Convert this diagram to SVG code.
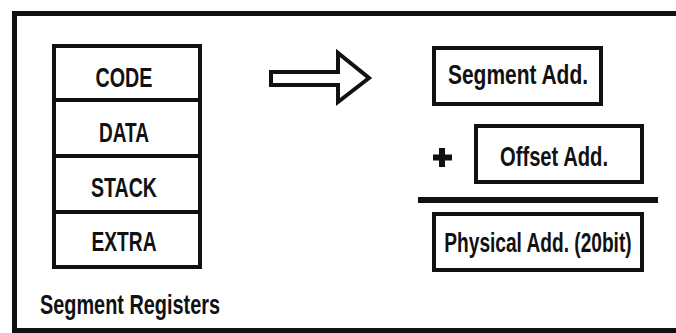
<svg xmlns="http://www.w3.org/2000/svg" width="676" height="333" viewBox="0 0 676 333">
<style>
.box{fill:#fff;stroke:#111;stroke-width:4}
.t{font-family:"Liberation Sans",Arial,sans-serif;font-weight:bold;font-size:28px;fill:#111;text-anchor:middle}
</style>
<rect x="0" y="0" width="676" height="333" fill="#fff"/>
<rect id="frame" x="14.5" y="13.5" width="680" height="317" fill="none" stroke="#111" stroke-width="5"/>
<g id="registers">
<rect class="box" x="54" y="46" width="146" height="221"/>
<line x1="54" y1="100" x2="200" y2="100" stroke="#111" stroke-width="4"/>
<line x1="54" y1="156" x2="200" y2="156" stroke="#111" stroke-width="4"/>
<line x1="54" y1="212" x2="200" y2="212" stroke="#111" stroke-width="4"/>
<text class="t" x="124" y="87" textLength="57" lengthAdjust="spacingAndGlyphs">CODE</text>
<text class="t" x="124" y="142" textLength="50" lengthAdjust="spacingAndGlyphs">DATA</text>
<text class="t" x="124" y="197" textLength="66" lengthAdjust="spacingAndGlyphs">STACK</text>
<text class="t" x="124" y="251" textLength="65" lengthAdjust="spacingAndGlyphs">EXTRA</text>
</g>
<g id="label">
<text class="t" x="130" y="314" textLength="180" lengthAdjust="spacingAndGlyphs">Segment Registers</text>
</g>
<g id="connectors">
<path d="M271 72 L338 72 L338 53 L369 78 L338 102 L338 85 L271 85 Z" fill="#fff" stroke="#111" stroke-width="4" stroke-linejoin="miter"/>
</g>
<g id="segment">
<rect class="box" x="434" y="48" width="167" height="56"/>
<text class="t" x="518" y="84" textLength="140" lengthAdjust="spacingAndGlyphs">Segment Add.</text>
</g>
<g id="plus">
<path d="M442 148 V167 M433 157.5 H452" stroke="#111" stroke-width="6"/>
</g>
<g id="offset">
<rect class="box" x="476" y="126" width="166" height="56"/>
<text class="t" x="554" y="166" textLength="108" lengthAdjust="spacingAndGlyphs">Offset Add.</text>
</g>
<g id="sumline">
<line x1="418" y1="200" x2="658" y2="200" stroke="#111" stroke-width="6"/>
</g>
<g id="physical">
<rect class="box" x="434" y="214" width="208" height="56"/>
<text class="t" transform="translate(538 252) scale(0.683 1)" x="0" y="0">Physical Add. (20bit)</text>
</g>
</svg>
